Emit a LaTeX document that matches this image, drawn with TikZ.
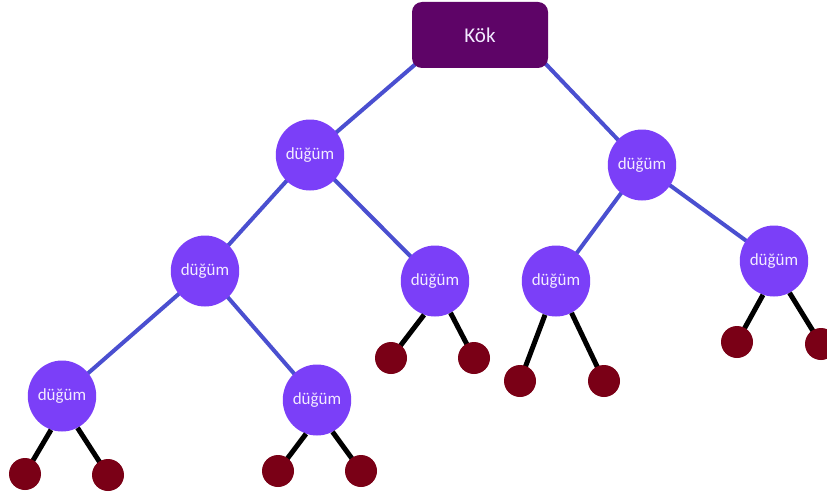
\documentclass[tikz,border=0pt]{standalone}
\usepackage{fontspec}
\setmainfont{Carlito}
\usetikzlibrary{shapes.geometric}
\definecolor{rootfill}{HTML}{5E0467}
\definecolor{nodefill}{HTML}{7B3FF8}
\definecolor{leaffill}{HTML}{7A0016}
\definecolor{edgeblue}{HTML}{4A4FD0}
\definecolor{labelcol}{HTML}{F2EAFF}
\tikzset{
  rootbox/.style={draw=none, fill=rootfill, rounded corners=10pt,
    minimum width=136pt, minimum height=66pt, inner sep=0pt,
    text=labelcol, font=\fontsize{21}{25}\selectfont},
  inner/.style={ellipse, draw=none, fill=nodefill, minimum width=67pt,
    minimum height=71pt, inner sep=0pt, text=labelcol,
    font=\fontsize{17}{20}\selectfont},
  leaf/.style={circle, draw=none, fill=leaffill, minimum size=32pt, inner sep=0pt},
  branch/.style={draw=edgeblue, line width=4pt},
  twig/.style={draw=black, line width=5pt},
}
\begin{document}
\begin{tikzpicture}[x=1pt, y=-1pt]
\fill[white] (0,0) rectangle (827,495);
\useasboundingbox (0,0) rectangle (827,495);

% attachment points on the lower corners of the root box
\coordinate (rl) at (418,62);
\coordinate (rr) at (542,60);

% positions of the inner nodes and the leaves
\coordinate (pA) at (310,155);
\coordinate (pB) at (642,165);
\coordinate (pC) at (205,271);
\coordinate (pD) at (435,281);
\coordinate (pE) at (556,281);
\coordinate (pF) at (774,261);
\coordinate (pG) at (62,396);
\coordinate (pH) at (317,400);

% branches (drawn first so the nodes sit on top)
\draw[branch] (rl) -- (pA);
\draw[branch] (rr) -- (pB);
\draw[branch] (pA) -- (pC);
\draw[branch] (pA) -- (pD);
\draw[branch] (pB) -- (pE);
\draw[branch] (pB) -- (pF);
\draw[branch] (pC) -- (pG);
\draw[branch] (pC) -- (pH);

\node[rootbox] (root) at (480,35) {Kök};

\node[inner] (A) at (pA) {düğüm};
\node[inner] (B) at (pB) {düğüm};
\node[inner] (C) at (pC) {düğüm};
\node[inner] (D) at (pD) {düğüm};
\node[inner] (E) at (pE) {düğüm};
\node[inner] (F) at (pF) {düğüm};
\node[inner] (G) at (pG) {düğüm};
\node[inner] (H) at (pH) {düğüm};

% leaf positions
\coordinate (qD1) at (391,358); \coordinate (qD2) at (474,358);
\coordinate (qE1) at (520,381); \coordinate (qE2) at (604,381);
\coordinate (qF1) at (737,342); \coordinate (qF2) at (821,344);
\coordinate (qG1) at (25,474);  \coordinate (qG2) at (108,475);
\coordinate (qH1) at (278,471); \coordinate (qH2) at (361,471);

% twigs from the lower rim of each node to its leaves
\foreach \n in {D,E,F,G,H}{
  \draw[twig] (\n.-108) -- (q\n1);
  \draw[twig] (\n.-64) -- (q\n2);
}

\foreach \n in {D,E,F,G,H}{
  \node[leaf] (\n l1) at (q\n1) {};
  \node[leaf] (\n l2) at (q\n2) {};
}
\end{tikzpicture}
\end{document}
